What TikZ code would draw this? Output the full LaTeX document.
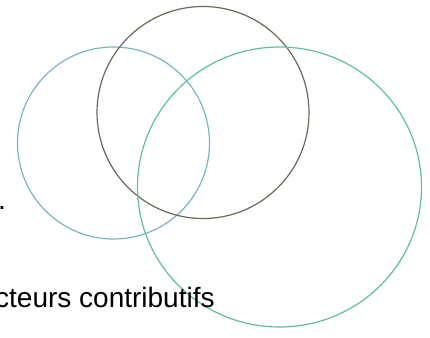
\documentclass[tikz,border=0pt]{standalone}
\usepackage{fontspec}
\setmainfont{Liberation Sans}
\usepackage{tikz}
\usetikzlibrary{positioning}
\usepackage{xcolor}
\definecolor{vennblue}{RGB}{120,182,192}
\definecolor{venndark}{RGB}{108,104,88}
\definecolor{venngreen}{RGB}{92,192,160}

\begin{document}
\begin{tikzpicture}[
    x=1pt, y=-1pt,
    ring/.style={line width=1.2pt},
    label/.style={font=\fontsize{28}{33}\selectfont, inner sep=0pt, text=black}
]

% === Frame ===
\useasboundingbox (0,0) rectangle (430,337);

% === Circles ===
\draw[ring, vennblue] (113.5,143) circle[radius=96];
\draw[ring, venndark] (203,112.5) circle[radius=106];
\draw[ring, venngreen] (279.5,187) ellipse[x radius=142, y radius=140];

% === Texts ===
\node[label, anchor=base west] (dot) at (-2,209) {.};
\node[label, anchor=base west] (factors) at (-5,307) {cteurs contributifs};

\end{tikzpicture}
\end{document}
